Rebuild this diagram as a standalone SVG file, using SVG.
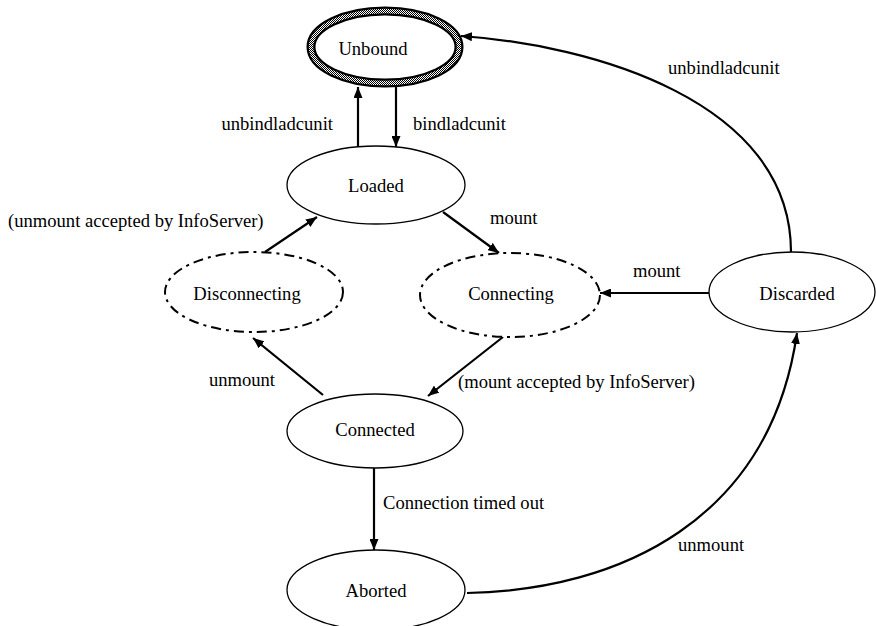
<svg xmlns="http://www.w3.org/2000/svg" width="876" height="626" viewBox="0 0 876 626">
<defs>
<pattern id="stipple" width="2" height="2" patternUnits="userSpaceOnUse">
<rect width="2" height="2" fill="#fff"/>
<rect width="1" height="1" fill="#000"/>
<rect x="1" y="1" width="1" height="1" fill="#000"/>
</pattern>
<marker id="arr" markerUnits="userSpaceOnUse" markerWidth="11" markerHeight="9" refX="11" refY="4.5" orient="auto">
<path d="M0,0 L11,4.5 L0,9 z" fill="#000"/>
</marker>
<style>
.node{fill:#fff;stroke:#000;stroke-width:1.3}
.dash{fill:#fff;stroke:#000;stroke-width:2;stroke-dasharray:10 5 3 5}
.lbl{font-family:"Liberation Serif","Times New Roman",serif;font-size:18.6px;fill:#000}
.c{text-anchor:middle}
.e{text-anchor:end}
.edge{fill:none;stroke:#000;stroke-width:2.2;marker-end:url(#arr)}
</style>
</defs>
<rect width="876" height="626" fill="#fff"/>
<g id="connectors">
<line class="edge" x1="358" y1="147" x2="358" y2="87"/>
<line class="edge" x1="396" y1="87" x2="396" y2="147"/>
<line class="edge" x1="265" y1="252" x2="317" y2="217"/>
<line class="edge" x1="443" y1="212" x2="499" y2="253"/>
<line class="edge" x1="709" y1="293" x2="600" y2="293"/>
<line class="edge" x1="503" y1="337" x2="428" y2="396"/>
<line class="edge" x1="323" y1="395" x2="253" y2="338"/>
<line class="edge" x1="374" y1="468" x2="374" y2="550"/>
<path class="edge" d="M467,593 C620,590 770,520 797,333"/>
<path class="edge" d="M791,252 C791,100 590,45 461,36"/>
<text class="lbl e" x="333" y="130">unbindladcunit</text>
<text class="lbl" x="413" y="130">bindladcunit</text>
<text class="lbl" x="8" y="227">(unmount accepted by InfoServer)</text>
<text class="lbl" x="490" y="224">mount</text>
<text class="lbl" x="633" y="277">mount</text>
<text class="lbl" x="668" y="74">unbindladcunit</text>
<text class="lbl e" x="275" y="386">unmount</text>
<text class="lbl" x="458" y="388">(mount accepted by InfoServer)</text>
<text class="lbl" x="383" y="509">Connection timed out</text>
<text class="lbl" x="678" y="551">unmount</text>
</g>
<g id="unbound">
<ellipse cx="385" cy="47" rx="74" ry="36" fill="#fff" stroke="#000" stroke-width="9"/>
<ellipse cx="385" cy="47" rx="74" ry="36" fill="none" stroke="url(#stipple)" stroke-width="4.5"/>
<text class="lbl c" x="373" y="55">Unbound</text>
</g>
<g id="loaded">
<ellipse class="node" cx="376" cy="185" rx="89" ry="39"/>
<text class="lbl c" x="376" y="192">Loaded</text>
</g>
<g id="disconnecting">
<ellipse class="dash" cx="254" cy="292" rx="89" ry="40"/>
<text class="lbl c" x="247" y="300">Disconnecting</text>
</g>
<g id="connecting">
<ellipse class="dash" cx="510" cy="295" rx="90" ry="42"/>
<text class="lbl c" x="511" y="300">Connecting</text>
</g>
<g id="discarded">
<ellipse class="node" cx="792" cy="292" rx="83" ry="40"/>
<text class="lbl c" x="797" y="300">Discarded</text>
</g>
<g id="connected">
<ellipse class="node" cx="375" cy="431" rx="88" ry="37"/>
<text class="lbl c" x="375" y="436">Connected</text>
</g>
<g id="aborted">
<ellipse class="node" cx="376" cy="590" rx="89" ry="40"/>
<text class="lbl c" x="376" y="597">Aborted</text>
</g>
</svg>
